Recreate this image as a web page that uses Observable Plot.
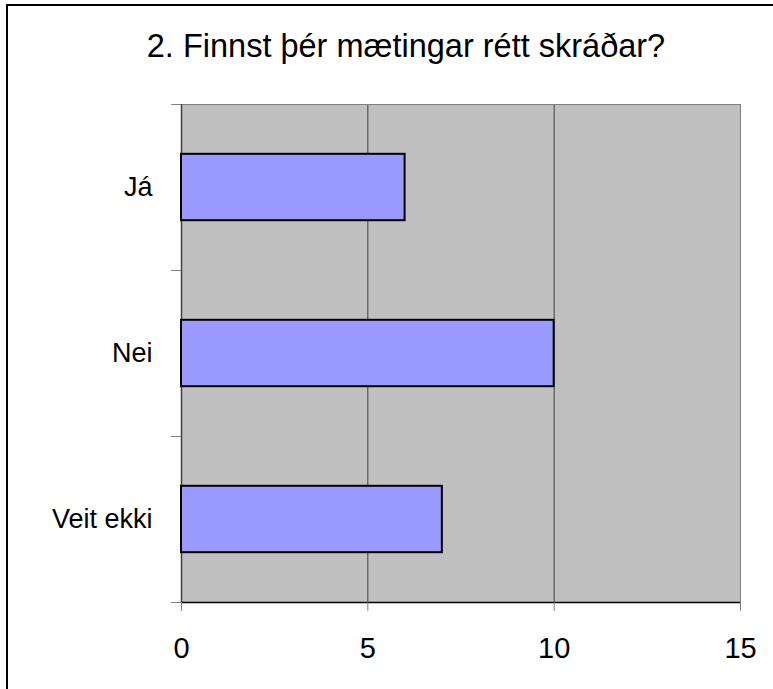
<!DOCTYPE html>
<html>
<head>
<meta charset="utf-8">
<script src="https://cdn.jsdelivr.net/npm/d3@7"></script>
<script src="https://cdn.jsdelivr.net/npm/@observablehq/plot@0.6"></script>
<style>
  html, body { margin: 0; padding: 0; background: white; overflow: hidden; }
  #wrap { position: relative; width: 773px; height: 689px; overflow: hidden; }
  #frame { position: absolute; left: 6px; top: 4px; width: 800px; height: 720px;
           border-left: 2px solid #000; border-top: 2px solid #000; pointer-events: none; }
  #title { position: absolute; top: 30px; left: 406px; transform: translateX(-50%);
           white-space: nowrap; font-family: "Liberation Sans", Arial, sans-serif;
           font-size: 32.5px; line-height: 1; color: #000; }
  svg { position: absolute; left: 0; top: 0; }
</style>
</head>
<body>
<div id="wrap">
  <div id="title"></div>
  <div id="frame"></div>
</div>
<script>
const title = "2. Finnst þér mætingar rétt skráðar?";
const categories = ["Já", "Nei", "Veit ekki"];
const values = [6, 10, 7];
const xTicks = [0, 5, 10, 15];

const data = categories.map((c, i) => ({category: c, value: values[i], i}));
const bandEdges = categories.map((c, i) => i).concat([categories.length]);
const bandCenters = categories.map((c, i) => i + 0.5);
const xMax = xTicks[xTicks.length - 1];

document.getElementById("title").textContent = title;

const chart = Plot.plot({
  width: 773,
  height: 689,
  marginLeft: 181,
  marginRight: 33,
  marginTop: 104,
  marginBottom: 87,
  style: {fontFamily: "'Liberation Sans', Arial, sans-serif", color: "#000", background: "transparent", overflow: "visible"},
  x: {domain: [0, xMax]},
  y: {domain: [0, categories.length], reverse: true},
  marks: [
    Plot.frame({fill: "#C0C0C0", stroke: null}),
    Plot.ruleX(xTicks.filter(t => t > 0 && t < xMax), {stroke: "#404040", strokeWidth: 1}),
    Plot.ruleX([xMax], {stroke: "#808080", strokeWidth: 1}),
    Plot.ruleY([0], {stroke: "#808080", strokeWidth: 1}),
    Plot.ruleX([0], {stroke: "#404040", strokeWidth: 1.5}),
    Plot.rect(data, {
      x1: 0, x2: "value",
      y1: d => d.i + 0.3, y2: d => d.i + 0.7,
      fill: "#9999FF", stroke: "#000", strokeWidth: 2
    }),
    Plot.ruleY([categories.length], {stroke: "#000", strokeWidth: 1.5}),
    Plot.axisY(bandEdges, {anchor: "left", tickSize: 10, tickFormat: () => "", stroke: "#808080", label: null}),
    Plot.axisY(bandCenters, {anchor: "left", tickSize: 0, tickPadding: 29, fontSize: 27,
      tickFormat: d => categories[Math.floor(d)], fill: "#000", label: null}),
    Plot.axisX(xTicks, {anchor: "bottom", tickSize: 9, tickFormat: () => "", stroke: "#808080", label: null}),
    Plot.axisX(xTicks, {anchor: "bottom", tickSize: 0, tickPadding: 35, fontSize: 29, fill: "#000", label: null})
  ]
});
document.getElementById("wrap").insertBefore(chart, document.getElementById("title"));
</script>
</body>
</html>
